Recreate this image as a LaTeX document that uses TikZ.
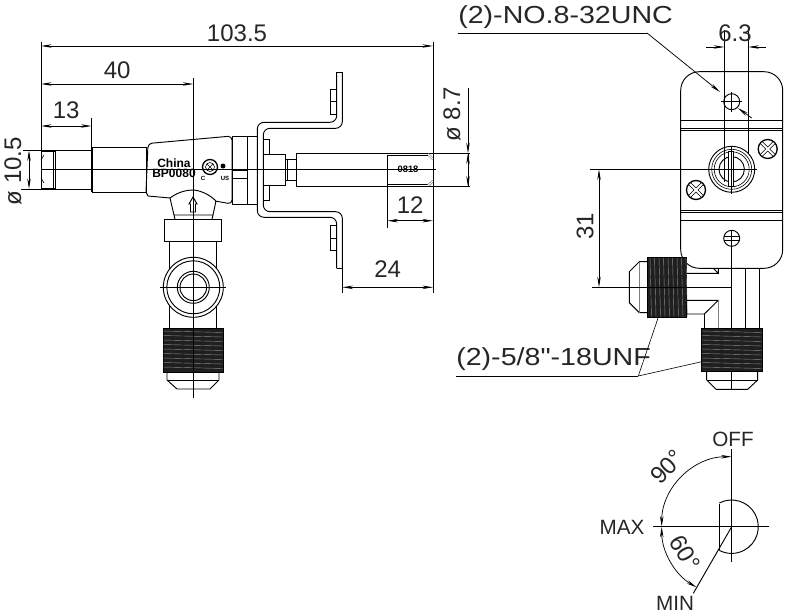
\documentclass[tikz,border=0pt]{standalone}
\usepackage{fontspec}
\setmainfont{Liberation Sans}
\newfontfamily\wideface[FakeStretch=1.16]{Liberation Sans}
\usetikzlibrary{arrows.meta}
\tikzset{
	part/.style={line width=0.7pt},
	fine/.style={line width=0.45pt},
	dim/.style={line width=0.55pt,<->,>={Stealth[length=8pt,width=2.6pt]}},
	tip/.style={line width=0.55pt,->,>={Stealth[length=8pt,width=2.6pt]}},
	dimtext/.style={font=\fontsize{18}{20}\selectfont,text=black!85,inner sep=0pt},
	leadtext/.style={font=\wideface\fontsize{18.5}{20}\selectfont,text=black!85,inner sep=0pt},
	marktext/.style={font=\fontsize{15.5}{18}\selectfont,text=black!85,inner sep=0pt},
	stamp/.style={font=\bfseries\fontsize{9}{10}\selectfont,inner sep=0pt},
	threadbox/.style={draw=black,fill=black!88,line width=0.6pt}
}
\begin{document}
\begin{tikzpicture}[x=0.75pt,y=-0.75pt]
	\useasboundingbox (0,0) rectangle (792,611);
	% front view: stem and body
	\draw [part] (41,151) rectangle (55,188);
	\draw [fine] (53.5,151) -- (53.5,188);
	\draw [fine] (41,160) -- (44,155) (41,178) -- (44,183);
	\draw [part] (92,147) rectangle (146,192);
	\draw [line width=1.3pt] (92,147) -- (92,192);
	\draw [part, rounded corners=3pt] (146,192) -- (148,143.5) -- (232,136) -- (232,204) -- (215,201);
	\draw [part] (148,196) -- (146,192);
	\draw [part] (148,196) -- (170,198) .. controls (178,192) and (186,190) .. (194,190) .. controls (202,191) and (210,195) .. (216,201);
	\draw [part] (170,198) -- (174,215) -- (213,215) -- (216,201);
	\draw [part] (174,215) -- (175,219.5) (213,215) -- (212,219.5);
	\draw [part] (232,136) rectangle (247,204);
	\draw [part] (247,136) rectangle (257.3,204);
	\draw [fine] (232,170) -- (247,170) (232,178) -- (247,178);
	\node (chinamark) [stamp] at (174,163.5) {China};
	\node (modelmark) [stamp] at (174,173) {BP0080};
	\draw [line width=1pt] (210,167) circle [radius=7.5];
	\draw [fine] (210,167) circle [radius=4.5];
	\draw [fine] (207,164) -- (213,170) (207,170) -- (213,164);
	\fill (223,166) circle [radius=2.5];
	\node (cmark) [font=\bfseries\fontsize{4.5}{5}\selectfont, inner sep=0pt] at (203,178) {C};
	\node (usmark) [font=\bfseries\fontsize{4.5}{5}\selectfont, inner sep=0pt] at (225,178) {US};
	\draw [part, fill=white] (193,197) -- (197,204) -- (195.5,204) -- (195.5,212) -- (190.5,212) -- (190.5,204) -- (189,204) -- cycle;
	% front view: lower fitting
	\draw [line width=1pt] (164.3,219.5) rectangle (221.7,241.3);
	\draw [part] (169.3,241.3) -- (169.3,328) (216.7,241.3) -- (216.7,328);
	\draw [part, fill=white] (193.3,287.3) circle [radius=30];
	\draw [part] (193.3,287.3) circle [radius=26.5];
	\draw [part] (193.3,287.3) circle [radius=16];
	\draw [part] (193.3,287.3) circle [radius=13.3];
	\draw [threadbox] (163,328) rectangle (223,372);
	\foreach \y in {331,335.5,...,370} {
		\draw [black!45, line width=0.3pt] (163,\y) -- (223,\y+1.5);
	}
	\draw [part] (167,372) -- (167,380) -- (177,389) -- (210,389) -- (219,380) -- (219,372);
	\draw [part] (167,380) -- (219,380);
	% bracket and stem to the right
	\draw [part, rounded corners=5pt] (336.7,72) -- (336.7,122.3) -- (257.3,122.3) -- (257.3,217.3) -- (336.7,217.3) -- (336.7,268.3);
	\draw [part, rounded corners=5pt] (342.3,72) -- (342.3,128.3) -- (263.3,128.3) -- (263.3,211.7) -- (342.3,211.7) -- (342.3,268.3);
	\draw [part] (336.7,72) -- (342.3,72) (336.7,268.3) -- (342.3,268.3);
	\draw [part] (336.7,89.3) -- (330,89.3) -- (330,114) -- (336.7,114) (330,101.7) -- (336.7,101.7);
	\draw [part] (336.7,225.7) -- (330,225.7) -- (330,250) -- (336.7,250) (330,238) -- (336.7,238);
	\draw [part] (263.3,139.3) -- (269.3,139.3) -- (269.3,154) (263.3,200.7) -- (269.3,200.7) -- (269.3,185);
	\draw [part] (263.3,154) rectangle (285,185);
	\draw [part] (285,159) rectangle (296,180);
	\draw [fine] (287,159) -- (287,180);
	\draw [part] (296,153.3) -- (470,153.3) (296,186.7) -- (470,186.7) (296,153.3) -- (296,186.7);
	\draw [part] (387.3,155) -- (428,155) (387.3,184.5) -- (428,184.5);
	\draw [fine, black!60, double, double distance=0.8pt] (428,154) -- (433,159) (428,185.5) -- (433,181);
	\node (datemark) [stamp, font=\bfseries\fontsize{7}{8}\selectfont] at (408,169) {0818};
	% centre lines
	\draw [part] (41,169.3) -- (436,169.3);
	\draw [part] (193.3,78) -- (193.3,398);
	\draw [part] (160,287.3) -- (226,287.3);
	% dimensions, front view
	\draw [fine] (41,42) -- (41,151);
	\draw [fine] (433,42) -- (433,293);
	\draw [fine] (23,150.3) -- (92,150.3) (21,189) -- (92,189);
	\draw [fine] (91.5,118) -- (91.5,147);
	\draw [fine] (387.3,155) -- (387.3,227.7);
	\draw [fine] (342.3,268.3) -- (342.3,293);
	\draw [dim] (41,46) -- node (lenall) [dimtext, above=3pt] {103.5} (433,46);
	\draw [dim] (41,84) -- node (lenforty) [dimtext, above=4pt] {40} (193.3,84);
	\draw [dim] (41,126) -- node (lenthirteen) [dimtext, above=5pt] {13} (91.5,126);
	\draw [dim] (29,150.3) -- (29,189);
	\node (diastem) [dimtext, rotate=90] at (13,171) {ø 10.5};
	\draw [tip] (468,88) -- (468,153.3);
	\draw [tip] (468,186.7) -- (468,153.3);
	\draw [tip] (468,153.3) -- (468,186.7);
	\node (diatube) [dimtext, rotate=90] at (452,114) {ø 8.7};
	\draw [dim] (387.3,220.7) -- node (lentwelve) [dimtext, above=5pt] {12} (433,220.7);
	\draw [dim] (342.3,287.3) -- node (lenbracket) [dimtext, above=7pt] {24} (433,287.3);
	% side view: plate
	\draw [part, rounded corners=14pt] (680.7,71.7) rectangle (782.7,268.3);
	\draw [part] (680.7,120.7) -- (782.7,120.7) (680.7,128.3) -- (782.7,128.3) (680.7,130.7) -- (782.7,130.7);
	\draw [part] (680.7,210.7) -- (782.7,210.7) (680.7,212.3) -- (782.7,212.3) (680.7,220.7) -- (782.7,220.7);
	\draw [part] (731.7,101.7) circle [radius=8];
	\draw [part] (731.7,238.3) circle [radius=8];
	\draw [part] (723.7,236.5) -- (739.7,236.5) (723.7,240.5) -- (739.7,240.5);
	\draw [part] (731.7,169.3) circle [radius=23];
	\draw [fine] (731.7,169.3) circle [radius=20];
	\draw [fine] (731.7,169.3) circle [radius=17.5];
	\draw [part] (731.7,169.3) circle [radius=12.7];
	\draw [part, fill=white] (728.5,151.8) rectangle (733.5,186.8);
	\foreach \sx/\sy in {767.7/149, 696/190} {
		\draw [line width=1pt] (\sx,\sy) circle [radius=9.5];
		\draw [line width=0.5pt, double, double distance=1.5pt] (\sx-6,\sy-6) -- (\sx+6,\sy+6) (\sx-6,\sy+6) -- (\sx+6,\sy-6);
	}
	\draw [fine] (731.7,146) -- (731.7,194) (722,169.3) -- (756.7,169.3);
	\draw [fine] (731.7,92) -- (731.7,111.5) (721,101.7) -- (742,101.7);
	\draw [part] (731.7,230) -- (731.7,389.3);
	% side view: fittings
	\draw [part] (647.7,261.7) -- (639.3,261.7) -- (629.3,271.7) -- (629.3,302.7) -- (639.3,312.7) -- (647.7,312.7);
	\draw [black!50, part] (639.3,261.7) -- (639.3,312.7);
	\draw [threadbox] (647.7,257.3) rectangle (686.7,317.3);
	\foreach \x in {650,654.5,...,686} {
		\draw [black!45, line width=0.3pt] (\x,257.3) -- (\x+1.5,317.3);
	}
	\draw [part] (686.7,273.3) -- (718.3,273.3) -- (718.3,268.3) (713.3,268.3) -- (718.3,273.3);
	\draw [part] (686.7,300.3) -- (718.3,300.3) -- (704.3,314) -- (686.7,314);
	\draw [part] (704.3,314) -- (704.3,328.3);
	\draw [black!50, part] (718.3,300.3) -- (718.3,328.3);
	\draw [part] (745.7,268.3) -- (745.7,328.3) (759.7,268.3) -- (759.7,328.3);
	\draw [threadbox] (701.7,328.3) rectangle (762.3,371);
	\foreach \y in {331,335.5,...,370} {
		\draw [black!45, line width=0.3pt] (701.7,\y) -- (762.3,\y+1.5);
	}
	\draw [part] (706.7,371) -- (706.7,380) -- (716,389.3) -- (747.7,389.3) -- (757.7,380) -- (757.7,371);
	\draw [part] (706.7,380) -- (757.7,380);
	% side view: dimensions and notes
	\draw [fine] (724.3,30) -- (724.3,181.7);
	\draw [fine] (748.3,30) -- (748.3,153);
	\draw [tip] (706,47) -- (724.3,47);
	\draw [tip] (766,47) -- (748.3,47);
	\node (lenscrew) [dimtext] at (735,33) {6.3};
	\node (screwnote) [leadtext, anchor=west] at (458,17) {(2)-NO.8-32UNC};
	\coordinate (screwbend) at (647,33);
	\draw [fine] (458,33) -- (screwbend);
	\draw [tip] (screwbend) -- (720,92);
	\draw [tip] (751.7,118) -- (738,108);
	\draw [fine] (592,287.3) -- (731.7,287.3);
	\draw [fine] (590,169.3) -- (722,169.3);
	\draw [dim] (599,169.3) -- (599,287.3);
	\node (lenholes) [dimtext, rotate=90] at (585,226) {31};
	\node (fitnote) [leadtext, anchor=west] at (456,359) {(2)-5/8"-18UNF};
	\coordinate (fitbend) at (638.3,376);
	\draw [fine] (456,376) -- (fitbend);
	\draw [fine] (fitbend) -- (658.3,317.3);
	\draw [fine] (fitbend) -- (701.7,361.7);
	% knob positions
	\draw [part] (731.7,449.3) -- (731.7,561.7);
	\draw [part] (653.3,526.7) -- (769,526.7);
	\draw [part] (719.3,504) -- (719.3,550);
	\draw [part] (719.3,503) arc [start angle=-117.4, end angle=117.4, radius=26.7];
	\draw [part] (731.7,526.7) -- (693.3,593.3);
	\draw [dim] (731.7,456.7) arc [start angle=-90, end angle=-180, radius=70];
	\draw [dim] (661.7,526.7) arc [start angle=-180, end angle=-240, radius=70];
	\node (markoff) [marktext] at (733,439) {OFF};
	\node (markmax) [marktext] at (622,527) {MAX};
	\node (markmin) [marktext] at (675,603) {MIN};
	\node (turnoff) [dimtext, rotate=45] at (667,467) {90°};
	\node (turnmin) [dimtext, rotate=-60] at (685,553) {60°};
\end{tikzpicture}
\end{document}
